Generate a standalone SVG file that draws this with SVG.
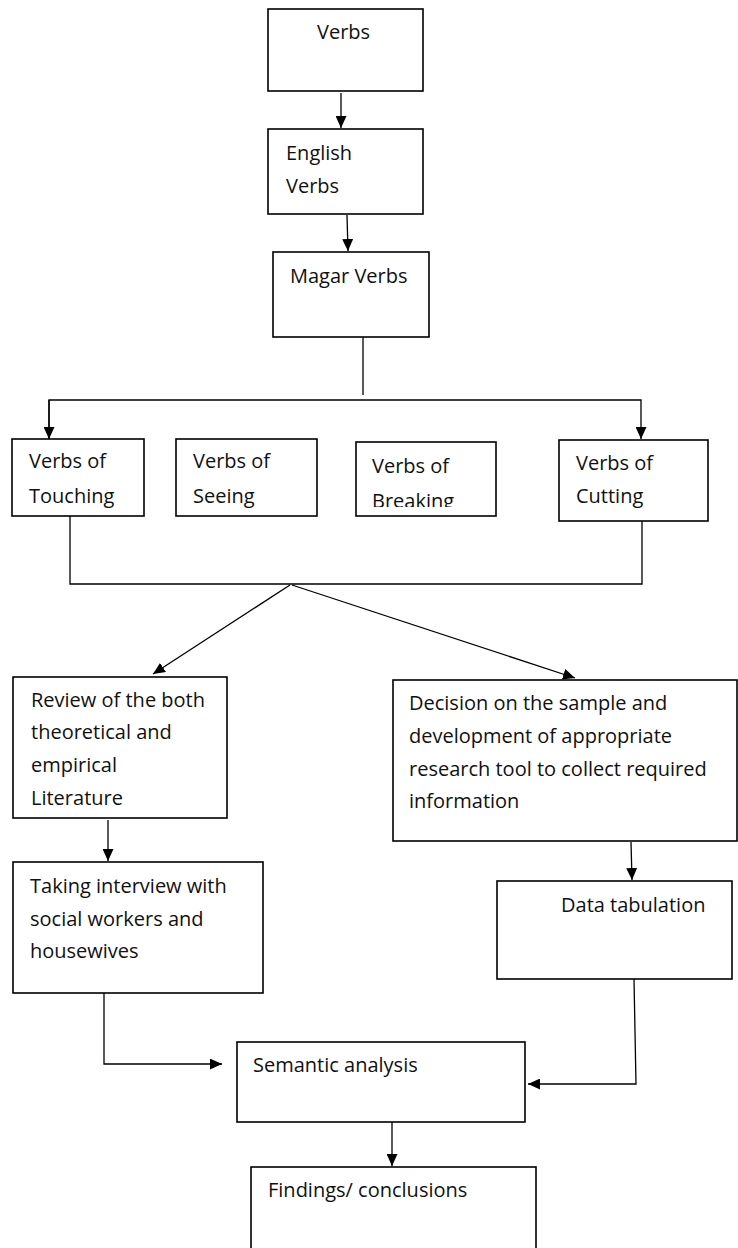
<svg xmlns="http://www.w3.org/2000/svg" width="738" height="1248" viewBox="0 0 738 1248">
<style>
.box{fill:#fff;stroke:#000;stroke-width:1.6}
.ln{fill:none;stroke:#000;stroke-width:1.3}
.t{font-family:"Open Sans","Liberation Sans",sans-serif;font-size:20px;fill:#111}
</style>
<defs>
<marker id="ah" markerWidth="12" markerHeight="11" refX="12" refY="5.5" orient="auto" markerUnits="userSpaceOnUse">
<path d="M0,0 L12,5.5 L0,11 Z" fill="#000"/>
</marker>
<clipPath id="clipBreak"><rect x="356" y="442" width="140" height="65"/></clipPath>
</defs>
<rect width="738" height="1248" fill="#fff"/>
<g id="connectors">
<line class="ln" x1="341" y1="93" x2="341" y2="128" marker-end="url(#ah)"/>
<line class="ln" x1="347" y1="215" x2="348" y2="251" marker-end="url(#ah)"/>
<line class="ln" x1="363" y1="336" x2="363" y2="395"/>
<polyline class="ln" points="49,439 49,400 641,400 641,439" marker-end="url(#ah)"/>
<line class="ln" x1="49" y1="400" x2="49" y2="439" marker-end="url(#ah)"/>
<polyline class="ln" points="70,516 70,584 642,584 642,521"/>
<line class="ln" x1="290" y1="585" x2="153" y2="674" marker-end="url(#ah)"/>
<line class="ln" x1="292" y1="585" x2="575" y2="678" marker-end="url(#ah)"/>
<line class="ln" x1="108" y1="820" x2="108" y2="861" marker-end="url(#ah)"/>
<line class="ln" x1="631" y1="842" x2="632" y2="880" marker-end="url(#ah)"/>
<polyline class="ln" points="104,993 104,1064 222,1064" marker-end="url(#ah)"/>
<polyline class="ln" points="634,979 636,1084 528,1084" marker-end="url(#ah)"/>
<line class="ln" x1="392" y1="1122" x2="392" y2="1166" marker-end="url(#ah)"/>
</g>
<g id="n-verbs"><rect class="box" x="268" y="9" width="155" height="82"/><text class="t" x="317" y="39">Verbs</text></g>
<g id="n-english"><rect class="box" x="268" y="129" width="155" height="85"/><text class="t" x="286" y="160">English</text><text class="t" x="286" y="193">Verbs</text></g>
<g id="n-magar"><rect class="box" x="273" y="252" width="156" height="85"/><text class="t" x="290" y="283">Magar Verbs</text></g>
<g id="n-touching"><rect class="box" x="12" y="439" width="132" height="77"/><text class="t" x="29" y="468">Verbs of</text><text class="t" x="29" y="503">Touching</text></g>
<g id="n-seeing"><rect class="box" x="176" y="439" width="141" height="77"/><text class="t" x="193" y="468">Verbs of</text><text class="t" x="193" y="503">Seeing</text></g>
<g id="n-breaking"><rect class="box" x="356" y="442" width="140" height="74"/><g clip-path="url(#clipBreak)"><text class="t" x="372" y="473">Verbs of</text><text class="t" x="372" y="508">Breaking</text></g></g>
<g id="n-cutting"><rect class="box" x="559" y="440" width="149" height="81"/><text class="t" x="576" y="470">Verbs of</text><text class="t" x="576" y="503">Cutting</text></g>
<g id="n-review"><rect class="box" x="13" y="677" width="214" height="141"/><text class="t" x="31" y="707">Review of the both</text><text class="t" x="31" y="739">theoretical and</text><text class="t" x="31" y="772">empirical</text><text class="t" x="31" y="805">Literature</text></g>
<g id="n-decision"><rect class="box" x="393" y="680" width="344" height="161"/><text class="t" x="409" y="710">Decision on the sample and</text><text class="t" x="409" y="743">development of appropriate</text><text class="t" x="409" y="776">research tool to collect required</text><text class="t" x="409" y="808">information</text></g>
<g id="n-taking"><rect class="box" x="13" y="862" width="250" height="131"/><text class="t" x="30" y="893">Taking interview with</text><text class="t" x="30" y="926">social workers and</text><text class="t" x="30" y="958">housewives</text></g>
<g id="n-data"><rect class="box" x="497" y="881" width="235" height="98"/><text class="t" x="561" y="912">Data tabulation</text></g>
<g id="n-semantic"><rect class="box" x="237" y="1042" width="288" height="80"/><text class="t" x="253" y="1072">Semantic analysis</text></g>
<g id="n-findings"><rect class="box" x="251" y="1167" width="285" height="90"/><text class="t" x="268" y="1197">Findings/ conclusions</text></g>
</svg>
